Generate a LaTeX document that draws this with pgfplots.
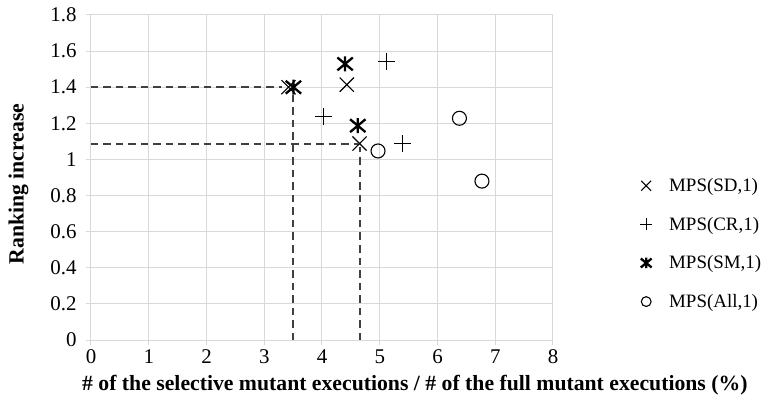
\documentclass[border=0pt]{standalone}
\usepackage{pgfplots}
\pgfplotsset{compat=1.18}
\usepackage{fontspec}
\setmainfont{Liberation Serif}
\definecolor{gridc}{HTML}{D9D9D9}
\definecolor{dashc}{HTML}{404040}
\makeatletter
\pgfdeclareplotmark{smstar}{%
  \pgfpathmoveto{\pgfqpoint{0pt}{-0.75\pgfplotmarksize}}%
  \pgfpathlineto{\pgfqpoint{0pt}{0.75\pgfplotmarksize}}%
  \pgfpathmoveto{\pgfqpoint{-0.77\pgfplotmarksize}{-0.64\pgfplotmarksize}}%
  \pgfpathlineto{\pgfqpoint{0.77\pgfplotmarksize}{0.64\pgfplotmarksize}}%
  \pgfpathmoveto{\pgfqpoint{-0.77\pgfplotmarksize}{0.64\pgfplotmarksize}}%
  \pgfpathlineto{\pgfqpoint{0.77\pgfplotmarksize}{-0.64\pgfplotmarksize}}%
  \pgfusepathqstroke}
\makeatother
\begin{document}
\begin{tikzpicture}
\useasboundingbox (-91bp,-65bp) rectangle (673bp,340bp);
\begin{axis}[
  scale only axis,
  width=462bp, height=325bp,
  xmin=0, xmax=8, ymin=0, ymax=1.8,
  xtick={0,1,...,8},
  ytick={0,0.2,0.4,0.6,0.8,1,1.2,1.4,1.6,1.8},
  yticklabels={0,0.2,0.4,0.6,0.8,1,1.2,1.4,1.6,1.8},
  grid=major,
  grid style={gridc, line width=1bp},
  axis line style={gridc, line width=1bp},
  tick style={gridc, line width=1bp},
  tick align=outside,
  major tick length=5bp,
  xtick pos=bottom, ytick pos=left,
  /pgf/number format/assume math mode=true,
  ticklabel style={font=\fontsize{21}{21}\selectfont},
  xticklabel style={yshift=-1bp},
  yticklabel style={xshift=-6bp},
  xlabel={\textbf{\# of the selective mutant executions / \# of the full mutant executions (\%)}},
  ylabel={\textbf{Ranking increase}},
  label style={font=\fontsize{21.8}{21.8}\selectfont},
  xlabel style={at={(axis description cs:0.701,-0.138)}, anchor=center},
  ylabel style={at={(axis description cs:-0.157,0.48)}, anchor=center},
  legend style={at={(1.182,0.51)}, anchor=north west, draw=none, fill=none,
    font=\fontsize{19}{19}\selectfont, row sep=20bp,
    /tikz/every odd column/.append style={column sep=15bp}},
  legend cell align=left,
  legend image post style={scale=0.7},
]
% dashed guide lines
\addplot[dashc, line width=2bp, dash pattern=on 7.5bp off 5bp, forget plot] coordinates {(0,1.4) (3.3,1.4)};
\addplot[dashc, line width=2bp, dash pattern=on 7.5bp off 5bp, forget plot] coordinates {(3.49,0) (3.49,1.38)};
\addplot[dashc, line width=2bp, dash pattern=on 7.5bp off 5bp, forget plot] coordinates {(0,1.088) (4.62,1.088)};
\addplot[dashc, line width=2bp, dash pattern=on 7.5bp off 5bp, forget plot] coordinates {(4.65,0) (4.65,1.07)};
% series
\addplot[only marks, mark=x, mark size=10bp, mark options={black, line width=1.1pt}] coordinates {(3.42,1.40) (4.43,1.414) (4.65,1.088)};
\addlegendentry{MPS(SD,1)}
\addplot[only marks, mark=+, mark size=8.5bp, mark options={black, line width=1.1pt}] coordinates {(4.02,1.237) (5.12,1.544) (5.39,1.088)};
\addlegendentry{MPS(CR,1)}
\addplot[only marks, mark=smstar, mark size=10bp, mark options={black, line width=2.3pt}] coordinates {(3.505,1.40) (4.40,1.529) (4.62,1.187)};
\addlegendentry{MPS(SM,1)}
\addplot[only marks, mark=o, mark size=7bp, mark options={black, line width=1.1pt}] coordinates {(4.97,1.047) (6.38,1.228) (6.77,0.88)};
\addlegendentry{MPS(All,1)}
\end{axis}
\end{tikzpicture}
\end{document}
